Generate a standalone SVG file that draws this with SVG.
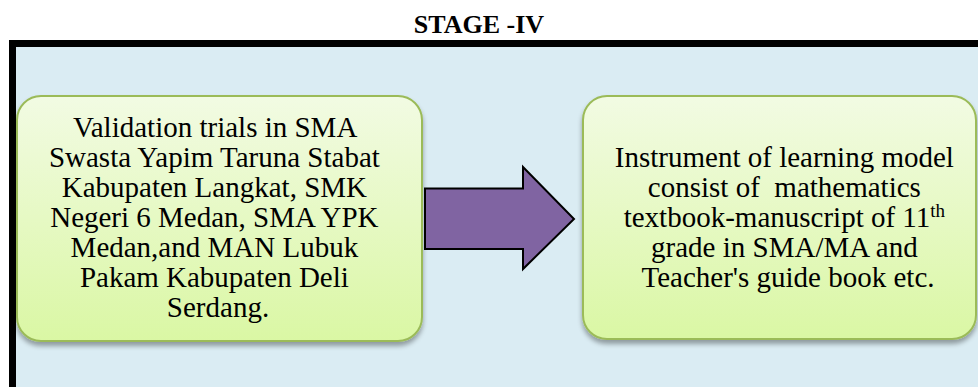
<svg xmlns="http://www.w3.org/2000/svg" width="978" height="387" viewBox="0 0 978 387">
<defs>
<linearGradient id="g" x1="0" y1="0" x2="0" y2="1">
<stop offset="0" stop-color="#f2fbe3"/>
<stop offset="1" stop-color="#daf7a4"/>
</linearGradient>
<filter id="sh" x="-10%" y="-10%" width="120%" height="130%">
<feGaussianBlur in="SourceAlpha" stdDeviation="2.5"/>
<feOffset dx="0" dy="4" result="b"/>
<feComponentTransfer><feFuncA type="linear" slope="0.35"/></feComponentTransfer>
<feMerge><feMergeNode/><feMergeNode in="SourceGraphic"/></feMerge>
</filter>
<style>
.box{fill:url(#g);stroke:#9bbb59;stroke-width:2;filter:url(#sh)}
.t{font-family:"Liberation Serif","Times New Roman",serif;font-size:29px;fill:#000;text-anchor:middle}
.title{font-family:"Liberation Serif","Times New Roman",serif;font-size:26px;font-weight:bold;fill:#000;text-anchor:middle}
</style>
</defs>
<rect width="978" height="387" fill="#ffffff"/>
<text class="title" x="479" y="33">STAGE -IV</text>
<rect x="12.5" y="43.5" width="1000" height="400" fill="#daecf3" stroke="#000" stroke-width="7"/>
<g id="node-left">
<rect class="box" x="17" y="96" width="405" height="245" rx="24"/>
<text class="t" x="218">
<tspan x="218" y="137">Validation trials in SMA</tspan>
<tspan x="218" y="167">Swasta Yapim Taruna Stabat</tspan>
<tspan x="218" y="197">Kabupaten Langkat, SMK</tspan>
<tspan x="218" y="227">Negeri 6 Medan, SMA YPK</tspan>
<tspan x="218" y="257">Medan,and MAN Lubuk</tspan>
<tspan x="218" y="287">Pakam Kabupaten Deli</tspan>
<tspan x="218" y="317">Serdang.</tspan>
</text>
</g>
<g id="connectors">
<polygon points="425,188.5 523,188.5 523,167 574,219 523,269 523,249 425,249" fill="#8064a2" stroke="#000" stroke-width="2" stroke-linejoin="miter"/>
</g>
<g id="node-right">
<rect class="box" x="583" y="96" width="393" height="243" rx="24"/>
<text class="t" x="788">
<tspan x="788" y="167">Instrument of learning model</tspan>
<tspan x="788" y="197">consist of&#160; mathematics</tspan>
<tspan x="788" y="227">textbook-manuscript of 11<tspan font-size="19" dy="-10">th</tspan></tspan>
<tspan x="788" y="257">grade in SMA/MA and</tspan>
<tspan x="788" y="287">Teacher's guide book etc.</tspan>
</text>
</g>
</svg>
